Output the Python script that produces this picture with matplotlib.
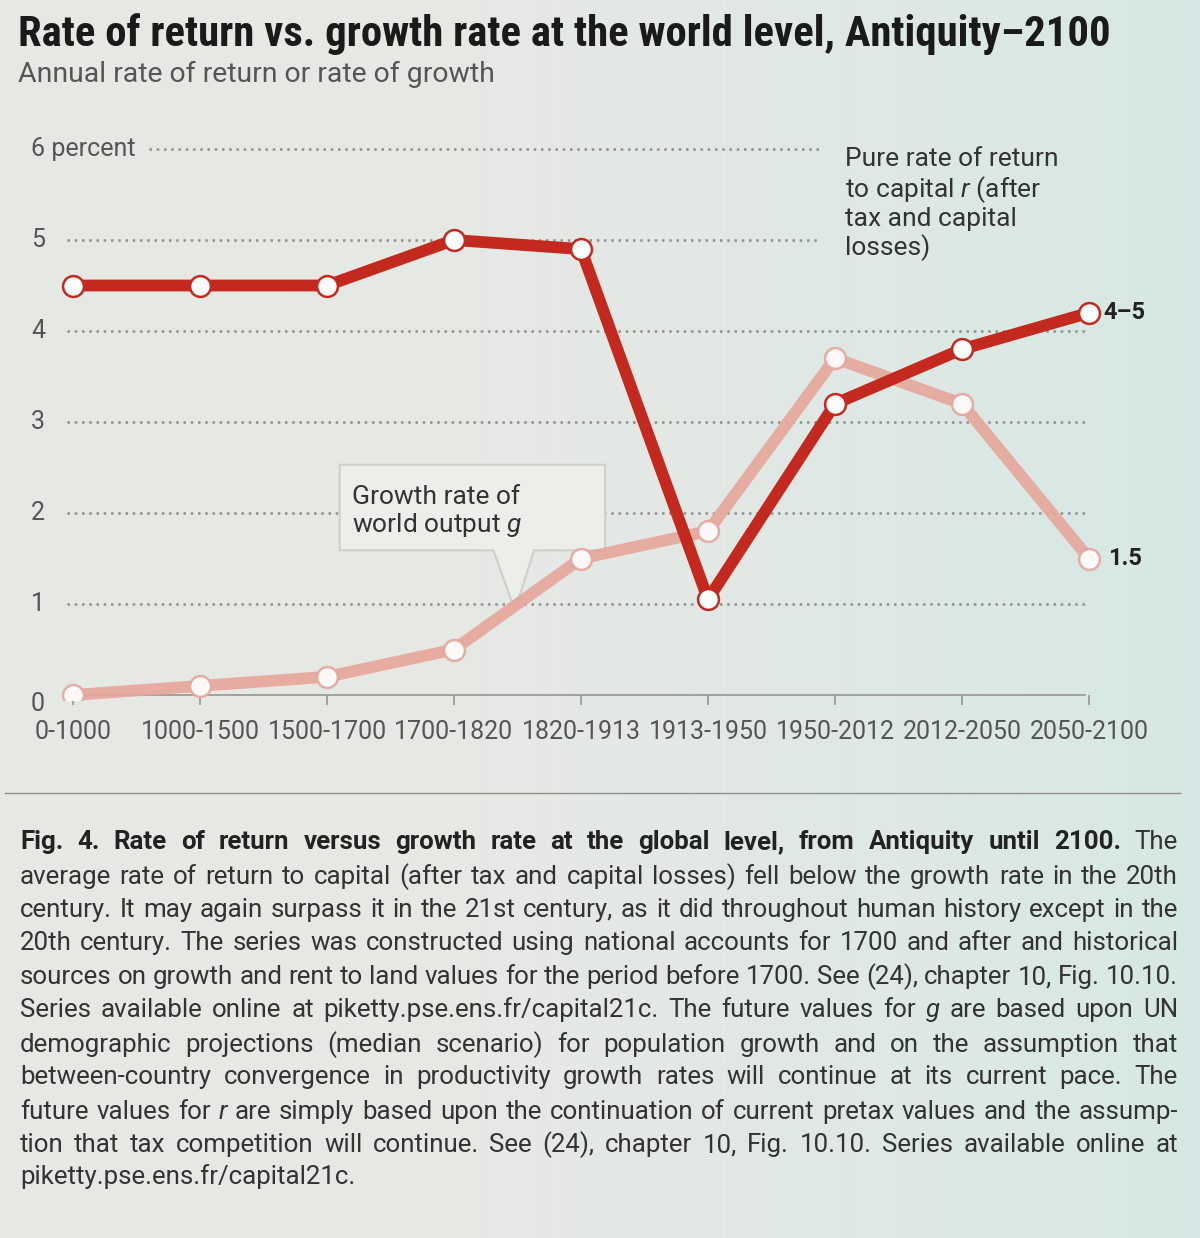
import numpy as np
import matplotlib
matplotlib.use('Agg')
import matplotlib.pyplot as plt
from matplotlib import font_manager
from matplotlib.patches import Polygon
from matplotlib.lines import Line2D

# fonts: pick a condensed face for the title if one is installed
names = {f.name for f in font_manager.fontManager.ttflist}
narrow = 'Roboto'
for cand in ['Roboto Condensed', 'Liberation Sans Narrow', 'Open Sans Condensed']:
    if cand in names:
        narrow = cand
        break

plt.rcParams['font.family'] = ['Roboto', 'DejaVu Sans']
plt.rcParams['mathtext.fontset'] = 'custom'
plt.rcParams['mathtext.rm'] = 'Roboto'
plt.rcParams['mathtext.it'] = 'Roboto:italic'
plt.rcParams['mathtext.bf'] = 'Roboto:bold'

# data
periods = ['0-1000', '1000-1500', '1500-1700', '1700-1820', '1820-1913',
           '1913-1950', '1950-2012', '2012-2050', '2050-2100']
r_values = [4.5, 4.5, 4.5, 5.0, 4.9, 1.05, 3.2, 3.8, 4.2]
g_values = [0.0, 0.1, 0.2, 0.5, 1.5, 1.8, 3.7, 3.2, 1.5]
y_ticks = [0, 1, 2, 3, 4, 5, 6]
y_labels = ['0', '1', '2', '3', '4', '5', '6 percent']
r_end_label = '4\u20135'
g_end_label = '1.5'

title = 'Rate of return vs. growth rate at the world level, Antiquity\u20132100'
subtitle = 'Annual rate of return or rate of growth'
fig_bold = 'Fig. 4. Rate of return versus growth rate at the global level, from Antiquity until 2100.'
caption_lines = [
    'The',
    'average rate of return to capital (after tax and capital losses) fell below the growth rate in the 20th',
    'century. It may again surpass it in the 21st century, as it did throughout human history except in the',
    '20th century. The series was constructed using national accounts for 1700 and after and historical',
    'sources on growth and rent to land values for the period before 1700. See (24), chapter 10, Fig. 10.10.',
    'Series available online at piketty.pse.ens.fr/capital21c. The future values for g are based upon UN',
    'demographic projections (median scenario) for population growth and on the assumption that',
    'between-country convergence in productivity growth rates will continue at its current pace. The',
    'future values for r are simply based upon the continuation of current pretax values and the assump-',
    'tion that tax competition will continue. See (24), chapter 10, Fig. 10.10. Series available online at',
    'piketty.pse.ens.fr/capital21c.',
]

W, H = 1200, 1238
fig = plt.figure(figsize=(W / 100, H / 100), dpi=100)


def fx(px):
    return px / W


def fy(py):
    return 1 - py / H


# photo-like background: grey on the left, slightly cyan on the right
bg = fig.add_axes([0, 0, 1, 1])
bg.set_zorder(-10)
xs = np.linspace(0, 1, 200)
t = np.clip((xs - 0.4) / 0.6, 0, 1) ** 1.3
left_c = np.array([230, 232, 228]) / 255
right_c = np.array([214, 232, 229]) / 255
row = left_c[None, :] * (1 - t[:, None]) + right_c[None, :] * t[:, None]
img = np.repeat(row[None, :, :], 20, axis=0)
bg.imshow(img, extent=[0, 1, 0, 1], aspect='auto')
bg.axis('off')

# main chart axes (pixel layout: x=0 at 73px, 127px/step; y=0 at 695px, 91px/unit)
ax_l, ax_r, ax_t, ax_b = 20, 1180, 130, 700
ax = fig.add_axes([fx(ax_l), fy(ax_b), (ax_r - ax_l) / W, (ax_b - ax_t) / H])
ax.patch.set_alpha(0)
ax.set_xlim((ax_l - 73) / 127, (ax_r - 73) / 127)
ax.set_ylim((695 - ax_b) / 91, (695 - ax_t) / 91)

x = np.arange(len(periods))
grid_col = '#8d8f8b'
for v, lab in zip(y_ticks, y_labels):
    if v == 0:
        continue
    start = 0.6 if v == 6 else -0.05
    end = 5.88 if v >= 5 else 7.97
    ax.plot([start, end], [v, v], color=grid_col, lw=1.8,
            linestyle=(0, (1, 1.9)), zorder=1)
for v, lab in zip(y_ticks, y_labels):
    # the zero label sits a little under the axis line
    ax.text(-0.33, v - (0.1 if v == 0 else 0), lab, ha='left', va='center',
            fontsize=18, color='#555555')

for s in ['top', 'right', 'left']:
    ax.spines[s].set_visible(False)
ax.spines['bottom'].set_position(('data', 0))
ax.spines['bottom'].set_bounds(0, 7.97)
ax.spines['bottom'].set_color('#9a9c98')
ax.spines['bottom'].set_linewidth(1.3)
ax.set_yticks([])
ax.set_xticks(x)
ax.set_xticklabels(periods, fontsize=18, color='#555555')
ax.tick_params(axis='x', length=7, width=1.3, color='#9a9c98', pad=11)

# callout box for g
box_col = '#eceeea'
callout = Polygon([(2.10, 2.53), (4.19, 2.53), (4.19, 1.59), (3.63, 1.59),
                   (3.48, 0.93), (3.31, 1.59), (2.10, 1.59)],
                  closed=True, facecolor=box_col, edgecolor='#cdcfcb', lw=1.5, zorder=2)
ax.add_patch(callout)
ax.text(2.20, 2.31, 'Growth rate of\nworld output $\\mathit{g}$', ha='left', va='top',
        fontsize=19, color='#333333', linespacing=1.1, zorder=5)

ax.text(6.08, 6.02, 'Pure rate of return\nto capital $\\mathit{r}$ (after\ntax and capital\nlosses)',
        ha='left', va='top', fontsize=19, color='#333333', linespacing=1.12, zorder=5)

g_col = '#e6a79d'
r_col = '#c3291f'
ax.plot(x, g_values, color=g_col, lw=8.5, marker='o', ms=15, mfc='white',
        mec=g_col, mew=1.8, zorder=3, solid_joinstyle='round', alpha=0.92)
ax.plot(x, r_values, color=r_col, lw=8.5, marker='o', ms=15, mfc='white',
        mec=r_col, mew=1.8, zorder=4, solid_joinstyle='round')

ax.text(x[-1] + 0.11, r_values[-1], r_end_label, ha='left', va='center',
        fontsize=17, fontweight='bold', color='#222222')
ax.text(x[-1] + 0.15, g_values[-1], g_end_label, ha='left', va='center',
        fontsize=17, fontweight='bold', color='#222222')

renderer = fig.canvas.get_renderer()


def fit_width(txt, target_px):
    w = txt.get_window_extent(renderer).width
    txt.set_fontsize(txt.get_fontsize() * target_px / w)


# title and subtitle
t_title = fig.text(fx(18), fy(46), title, ha='left', va='baseline', fontsize=30,
                   fontweight='bold', family=[narrow, 'Roboto', 'DejaVu Sans'], color='#1a1a1a')
fit_width(t_title, 1095)
t_sub = fig.text(fx(18), fy(82), subtitle, ha='left', va='baseline', fontsize=18,
                 color='#555555')
fit_width(t_sub, 477)

# separator
fig.add_artist(Line2D([fx(5), fx(1180)], [fy(793), fy(793)], color='#8f918d', lw=1))

# caption, justified line by line
cap_x0, cap_x1 = 20, 1178
cap_base = [849, 884, 917, 950, 984, 1017, 1052, 1084, 1119, 1152, 1184]
words_per_line = []
first = [(w, {'fontweight': 'bold', 'color': '#222222'}) for w in fig_bold.split()]
first += [(w, {'color': '#333333'}) for w in caption_lines[0].split()]
words_per_line.append(first)
for line in caption_lines[1:]:
    ws = []
    for w in line.split():
        kw = {'color': '#333333'}
        if w in ('g', 'r'):
            kw['fontstyle'] = 'italic'
        ws.append((w, kw))
    words_per_line.append(ws)

cap_fs = 22
all_texts = []
for ws, yb in zip(words_per_line, cap_base):
    row_t = [fig.text(0, fy(yb), w, ha='left', va='baseline', fontsize=cap_fs, **kw)
             for w, kw in ws]
    all_texts.append(row_t)

space_px = cap_fs * 100 / 72 * 0.24


def natural(row_t, sp):
    return sum(tt.get_window_extent(renderer).width for tt in row_t) + sp * (len(row_t) - 1)


# plain lines set the common size; the bold first line is squeezed on its own
scale = 1.0
for row_t in all_texts[1:-1]:
    scale = min(scale, (cap_x1 - cap_x0) / natural(row_t, space_px))
if scale < 1:
    for row_t in all_texts:
        for tt in row_t:
            tt.set_fontsize(cap_fs * scale)
    space_px *= scale
s1 = (cap_x1 - cap_x0) / natural(all_texts[0], space_px)
if s1 < 1:
    for tt in all_texts[0]:
        tt.set_fontsize(tt.get_fontsize() * s1)

for i, row_t in enumerate(all_texts):
    widths = [tt.get_window_extent(renderer).width for tt in row_t]
    if i == len(all_texts) - 1:
        gap = space_px
    else:
        gap = (cap_x1 - cap_x0 - sum(widths)) / (len(row_t) - 1)
    xp = cap_x0
    for tt, w in zip(row_t, widths):
        tt.set_x(fx(xp))
        xp += w + gap

fig.savefig('out.png', dpi=100)
